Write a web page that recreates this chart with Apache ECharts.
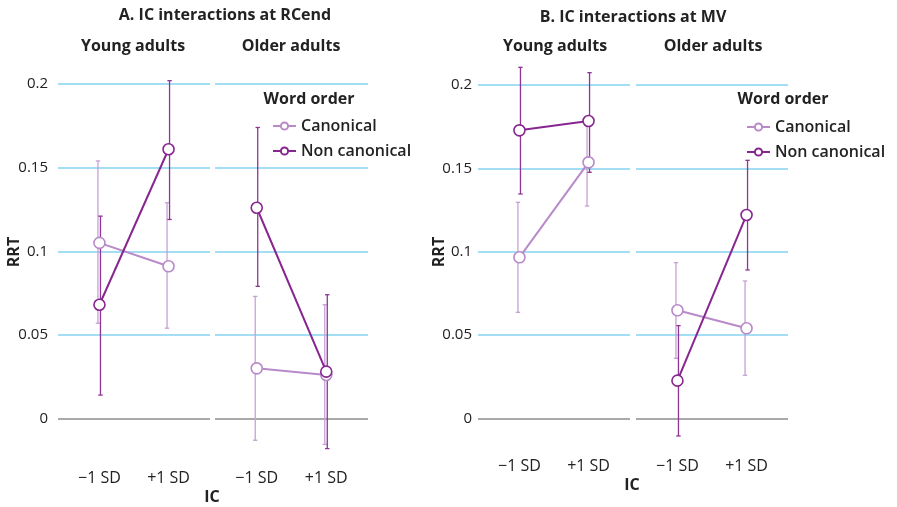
<!DOCTYPE html>
<html>
<head>
<meta charset="utf-8">
<script src="https://cdn.jsdelivr.net/npm/echarts@6/dist/echarts.min.js"></script>
<style>
  html, body { margin: 0; padding: 0; background: #fff; }
  #chart { width: 897px; height: 507px; }
</style>
</head>
<body>
<div id="chart"></div>
<script>
// IC levels on the x axis and word-order groups
const icLevels = ['\u22121 SD', '+1 SD'];
const wordOrders = ['Canonical', 'Non canonical'];
const yTicks = [0, 0.05, 0.1, 0.15, 0.2];

// RCend, young adults: means and interval bounds at -1 SD / +1 SD
const rcendYoungCanonMean = [0.105, 0.091];
const rcendYoungCanonLow  = [0.057, 0.054];
const rcendYoungCanonHigh = [0.154, 0.129];
const rcendYoungNonMean   = [0.068, 0.161];
const rcendYoungNonLow    = [0.014, 0.119];
const rcendYoungNonHigh   = [0.121, 0.202];

// RCend, older adults
const rcendOlderCanonMean = [0.030, 0.026];
const rcendOlderCanonLow  = [-0.013, -0.0155];
const rcendOlderCanonHigh = [0.073, 0.068];
const rcendOlderNonMean   = [0.126, 0.028];
const rcendOlderNonLow    = [0.079, -0.018];
const rcendOlderNonHigh   = [0.174, 0.074];

// MV, young adults
const mvYoungCanonMean = [0.0966, 0.1536];
const mvYoungCanonLow  = [0.0636, 0.1274];
const mvYoungCanonHigh = [0.1296, 0.179];
const mvYoungNonMean   = [0.1728, 0.1784];
const mvYoungNonLow    = [0.1346, 0.1476];
const mvYoungNonHigh   = [0.2106, 0.2074];

// MV, older adults
const mvOlderCanonMean = [0.0648, 0.054];
const mvOlderCanonLow  = [0.036, 0.0258];
const mvOlderCanonHigh = [0.0934, 0.0824];
const mvOlderNonMean   = [0.0226, 0.122];
const mvOlderNonLow    = [-0.0106, 0.089];
const mvOlderNonHigh   = [0.0556, 0.1548];

const CANON = '#b98ac9';
const CANON_BAR = '#c7a0d5';
const NONCANON = '#87268f';
const NONCANON_BAR = '#8f3596';
const FONT = '"Open Sans", "Noto Sans", sans-serif';
const TEXT = '#222';

const panels = [
  { grid: { left: 58,  top: 84, width: 152, height: 334.5 }, yLabels: true,  labelMargin: 10, xMargin: 52,
    canon: [rcendYoungCanonMean, rcendYoungCanonLow, rcendYoungCanonHigh],
    non:   [rcendYoungNonMean, rcendYoungNonLow, rcendYoungNonHigh] },
  { grid: { left: 215, top: 84, width: 153, height: 334.5 }, yLabels: false, labelMargin: 10, xMargin: 52,
    canon: [rcendOlderCanonMean, rcendOlderCanonLow, rcendOlderCanonHigh],
    non:   [rcendOlderNonMean, rcendOlderNonLow, rcendOlderNonHigh] },
  { grid: { left: 478, top: 85, width: 152, height: 333.3 }, yLabels: true,  labelMargin: 6, xMargin: 40,
    canon: [mvYoungCanonMean, mvYoungCanonLow, mvYoungCanonHigh],
    non:   [mvYoungNonMean, mvYoungNonLow, mvYoungNonHigh] },
  { grid: { left: 636, top: 85, width: 152, height: 333.3 }, yLabels: false, labelMargin: 6, xMargin: 40,
    canon: [mvOlderCanonMean, mvOlderCanonLow, mvOlderCanonHigh],
    non:   [mvOlderNonMean, mvOlderNonLow, mvOlderNonHigh] }
];

const grids = [], xAxes = [], yAxes = [], series = [];

function errorBarSeries(idx, name, triple, color, shift) {
  const [mean, low, high] = triple;
  return {
    type: 'custom', name: name + ' interval', xAxisIndex: idx, yAxisIndex: idx, clip: false, z: 2,
    silent: true,
    data: mean.map((m, i) => [i, low[i], high[i]]),
    renderItem: function (params, api) {
      const lo = api.coord([api.value(0), api.value(1)]);
      const hi = api.coord([api.value(0), api.value(2)]);
      const x = lo[0] + shift;
      const cap = 2.2;
      const style = { stroke: color, lineWidth: 1.3, fill: null };
      return {
        type: 'group',
        children: [
          { type: 'line', shape: { x1: x, y1: lo[1], x2: x, y2: hi[1] }, style: style },
          { type: 'line', shape: { x1: x - cap, y1: lo[1], x2: x + cap, y2: lo[1] }, style: style },
          { type: 'line', shape: { x1: x - cap, y1: hi[1], x2: x + cap, y2: hi[1] }, style: style }
        ]
      };
    }
  };
}

function meanSeries(idx, name, mean, color, z) {
  return {
    type: 'line', name: name, xAxisIndex: idx, yAxisIndex: idx, z: z,
    data: mean.map((m, i) => [i, m]),
    symbol: 'circle', symbolSize: 11, showSymbol: true,
    lineStyle: { color: color, width: 2 },
    itemStyle: { color: '#fff', borderColor: color, borderWidth: 1.6 },
    emphasis: { disabled: true },
    animation: false
  };
}

panels.forEach((p, idx) => {
  grids.push(Object.assign({ containLabel: false }, p.grid));
  xAxes.push({
    type: 'value', gridIndex: idx, min: -0.6, max: 1.6,
    axisLine: { show: false }, axisTick: { show: false }, splitLine: { show: false },
    axisLabel: {
      customValues: [0, 1], margin: p.xMargin, fontSize: 16, color: TEXT, fontFamily: FONT,
      formatter: v => icLevels[Math.round(v)]
    }
  });
  yAxes.push({
    type: 'value', gridIndex: idx, min: 0, max: 0.2, interval: 0.05,
    axisLine: { show: false }, axisTick: { show: false },
    axisLabel: {
      show: p.yLabels, margin: p.labelMargin, fontSize: 15, color: TEXT, fontFamily: FONT,
      formatter: v => String(Math.round(v * 100) / 100)
    },
    splitLine: { show: true, lineStyle: { color: ['#8c8c8c', '#86d3f0', '#86d3f0', '#86d3f0', '#86d3f0'], width: 1.5 } }
  });
  series.push(errorBarSeries(idx, wordOrders[0], p.canon, CANON_BAR, -1.5));
  series.push(errorBarSeries(idx, wordOrders[1], p.non, NONCANON_BAR, 1));
  series.push(meanSeries(idx, wordOrders[0], p.canon[0], CANON, 3));
  series.push(meanSeries(idx, wordOrders[1], p.non[0], NONCANON, 4));
});

function txt(text, x, y, size, weight, extra) {
  return Object.assign({
    type: 'text', x: x, y: y, silent: true,
    style: { text: text, fill: TEXT, font: weight + ' ' + size + 'px ' + FONT, align: 'center', verticalAlign: 'middle' }
  }, extra || {});
}

const legendCommon = {
  orient: 'vertical', itemWidth: 23, itemHeight: 9, itemGap: 9, selectedMode: false,
  data: wordOrders,
  textStyle: { fontSize: 16, fontWeight: 600, color: TEXT, fontFamily: FONT }
};

const chart = echarts.init(document.getElementById('chart'), null, { renderer: 'canvas' });
chart.setOption({
  animation: false,
  grid: grids,
  xAxis: xAxes,
  yAxis: yAxes,
  series: series,
  legend: [
    Object.assign({ left: 267, top: 113 }, legendCommon),
    Object.assign({ left: 741, top: 114 }, legendCommon)
  ],
  graphic: [
    txt('A. IC interactions at RCend', 225, 15, 16, 'bold'),
    txt('Young adults', 133, 46, 16, 'bold'),
    txt('Older adults', 291, 46, 16, 'bold'),
    txt('Word order', 309, 99, 16, 'bold'),
    txt('RRT', 14, 252, 16, 'bold', { rotation: Math.PI / 2 }),
    txt('IC', 212, 497, 16, 'bold'),
    txt('B. IC interactions at MV', 633, 17, 16, 'bold'),
    txt('Young adults', 555, 46, 16, 'bold'),
    txt('Older adults', 713, 46, 16, 'bold'),
    txt('Word order', 783, 99, 16, 'bold'),
    txt('RRT', 439, 252, 16, 'bold', { rotation: Math.PI / 2 }),
    txt('IC', 632, 485, 16, 'bold')
  ]
});
</script>
</body>
</html>
